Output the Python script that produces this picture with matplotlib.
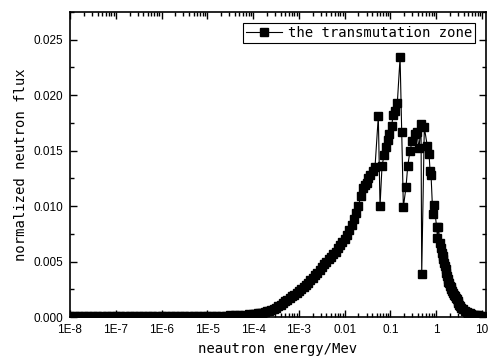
import numpy as np
import matplotlib.pyplot as plt
from matplotlib.ticker import FixedLocator, FixedFormatter, LogLocator, MultipleLocator, NullFormatter

# neutron energy (MeV) and normalized flux in the transmutation zone
energy = [
    1.00e-8, 1.26e-8, 1.58e-8, 2.00e-8, 2.51e-8, 3.16e-8, 3.98e-8, 5.01e-8, 6.31e-8, 7.94e-8,
    1.00e-7, 1.26e-7, 1.58e-7, 2.00e-7, 2.51e-7, 3.16e-7, 3.98e-7, 5.01e-7, 6.31e-7, 7.94e-7,
    1.00e-6, 1.26e-6, 1.58e-6, 2.00e-6, 2.51e-6, 3.16e-6, 3.98e-6, 5.01e-6, 6.31e-6, 7.94e-6,
    1.00e-5, 1.26e-5, 1.58e-5, 2.00e-5, 2.51e-5, 3.16e-5, 3.98e-5, 5.01e-5, 6.31e-5, 7.94e-5,
    1.00e-4, 1.12e-4, 1.26e-4, 1.41e-4, 1.58e-4, 1.78e-4, 2.00e-4, 2.24e-4, 2.51e-4, 2.82e-4,
    3.16e-4, 3.55e-4, 3.98e-4, 4.47e-4, 5.01e-4, 5.62e-4, 6.31e-4, 7.08e-4, 7.94e-4, 8.91e-4,
    1.00e-3, 1.12e-3, 1.26e-3, 1.41e-3, 1.58e-3, 1.78e-3, 2.00e-3, 2.24e-3, 2.51e-3, 2.82e-3,
    3.16e-3, 3.55e-3, 3.98e-3, 4.47e-3, 5.01e-3, 5.62e-3, 6.31e-3, 7.08e-3, 7.94e-3, 8.91e-3,
    1.00e-2, 1.12e-2, 1.26e-2, 1.41e-2, 1.58e-2, 1.78e-2, 2.00e-2,
    0.0224, 0.0255, 0.0280, 0.0303, 0.0330, 0.0357, 0.0409, 0.0459, 0.0542, 0.0591,
    0.0653, 0.0723, 0.0799, 0.0884, 0.0944, 0.106, 0.114, 0.124, 0.141, 0.162,
    0.176, 0.191, 0.218, 0.238, 0.267, 0.300, 0.344, 0.374, 0.420, 0.464,
    0.481, 0.548, 0.638, 0.695, 0.731, 0.769, 0.837, 0.893, 1.02, 1.06,
    1.11, 1.21, 1.26, 1.31, 1.37, 1.42, 1.48, 1.55, 1.60, 1.66,
    1.72, 1.78, 1.84, 1.90, 2.00, 2.07, 2.15, 2.23, 2.32, 2.44,
    2.55, 2.67, 2.80, 2.92, 3.05, 3.17, 3.30, 3.55, 3.85, 4.30,
    4.60, 5.00, 5.40, 5.80, 6.70, 7.30, 8.00, 9.00, 10.0,
]
flux = [
    0.00005, 0.00005, 0.00005, 0.00005, 0.00005, 0.00005, 0.00005, 0.00005, 0.00005, 0.00005,
    0.00005, 0.00005, 0.00005, 0.00005, 0.00005, 0.00005, 0.00005, 0.00005, 0.00005, 0.00005,
    0.000055, 0.000055, 0.00006, 0.00006, 0.000065, 0.000065, 0.00007, 0.00007, 0.000075, 0.000075,
    0.00008, 0.00009, 0.0001, 0.00011, 0.00012, 0.00014, 0.00016, 0.00018, 0.0002, 0.00023,
    0.00026, 0.0003, 0.00033, 0.00037, 0.0004, 0.00045, 0.0005, 0.00057, 0.00065, 0.00072,
    0.0008, 0.00095, 0.0011, 0.00125, 0.0014, 0.00155, 0.0017, 0.00185, 0.0020, 0.00215,
    0.0023, 0.0025, 0.0027, 0.0029, 0.0031, 0.0033, 0.0035, 0.00375, 0.0040, 0.00425,
    0.0045, 0.00475, 0.0050, 0.0052, 0.0054, 0.00565, 0.0059, 0.0062, 0.0065, 0.00675,
    0.0070, 0.0074, 0.0078, 0.0083, 0.0088, 0.0094, 0.0100,
    0.0109, 0.0116, 0.0119, 0.0121, 0.0125, 0.0128, 0.0132, 0.0135, 0.0181, 0.0100,
    0.0136, 0.0146, 0.0153, 0.0160, 0.0165, 0.0172, 0.0182, 0.0186, 0.0193, 0.0234,
    0.0167, 0.0099, 0.0117, 0.0136, 0.0150, 0.0159, 0.0165, 0.0167, 0.0152, 0.0174,
    0.0039, 0.0171, 0.0154, 0.0147, 0.0132, 0.0128, 0.0093, 0.0101, 0.0081, 0.0071,
    0.0081, 0.0067, 0.0062, 0.0058, 0.0055, 0.0052, 0.0049, 0.0046, 0.0043, 0.0040,
    0.0037, 0.0034, 0.0032, 0.0031, 0.0028, 0.0027, 0.0025, 0.0023, 0.0022, 0.0020,
    0.0019, 0.0017, 0.0016, 0.0014, 0.0013, 0.0011, 0.0010, 0.00085, 0.0007, 0.00055,
    0.00048, 0.0004, 0.00035, 0.0003, 0.00022, 0.00019, 0.00016, 0.00012, 0.0001,
]

xtick_pos = [1e-8, 1e-7, 1e-6, 1e-5, 1e-4, 1e-3, 1e-2, 1e-1, 1, 10]
xtick_lab = ['1E-8', '1E-7', '1E-6', '1E-5', '1E-4', '1E-3', '0.01', '0.1', '1', '10']

mono = 'DejaVu Sans Mono'
plt.rcParams['font.family'] = 'Liberation Sans'

fig = plt.figure(figsize=(4.89, 3.58), dpi=100)
ax = fig.add_axes([0.1431, 0.1145, 0.8508, 0.852])

ax.plot(energy, flux, color='black', lw=0.8, marker='s', ms=5.6,
        mfc='black', mec='black', label='the transmutation zone')

ax.set_xscale('log')
ax.set_xlim(1e-8, 12.2)
ax.set_ylim(0, 0.0275)

ax.xaxis.set_major_locator(FixedLocator(xtick_pos))
ax.xaxis.set_major_formatter(FixedFormatter(xtick_lab))
ax.xaxis.set_minor_locator(LogLocator(base=10, subs=np.arange(2, 10), numticks=100))
ax.xaxis.set_minor_formatter(NullFormatter())
ax.yaxis.set_major_locator(MultipleLocator(0.005))
ax.yaxis.set_minor_locator(MultipleLocator(0.0025))
ax.yaxis.set_major_formatter(plt.FormatStrFormatter('%.3f'))

ax.tick_params(which='both', direction='in', top=True, right=True, width=1)
ax.tick_params(which='major', length=5, labelsize=8.5, pad=5)
ax.tick_params(which='minor', length=3)
for s in ax.spines.values():
    s.set_linewidth(1.2)

ax.set_xlabel('neautron energy/Mev', family=mono, fontsize=10, labelpad=4)
ax.set_ylabel('normalized neutron flux', family=mono, fontsize=10, labelpad=4)

leg = ax.legend(loc='upper right', prop={'family': mono, 'size': 10},
                fancybox=False, framealpha=1, edgecolor='black',
                handlelength=2.6, handletextpad=0.4, borderpad=0.2,
                borderaxespad=0.8)
leg.get_frame().set_linewidth(0.8)

plt.savefig('out.png', dpi=100)
